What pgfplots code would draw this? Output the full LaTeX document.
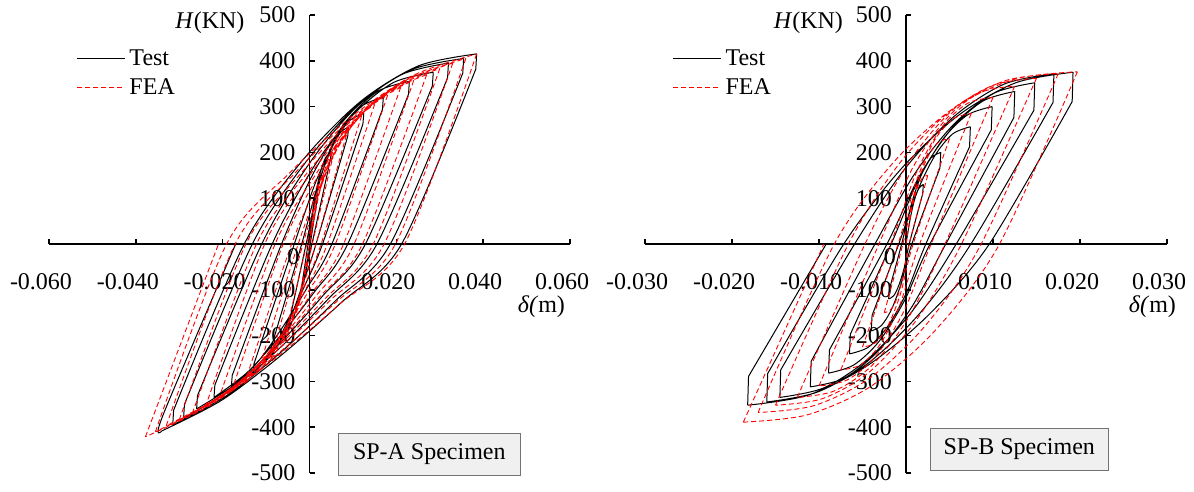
\documentclass[border=0pt]{standalone}
\usepackage{fontspec}
\setmainfont{Liberation Serif}
\usepackage{pgfplots}
\pgfplotsset{compat=1.18}
\newcommand{\fs}{\fontsize{12}{14}\selectfont}

\pgfplotsset{
  hyst/.style={
    scale only axis, height=229pt, anchor=south west,
    axis lines=middle, axis line style={-, line width=0.8pt},
    ymin=-500, ymax=500,
    ytick={-500,-400,-300,-200,-100,100,200,300,400,500},
    scaled x ticks=false,
    tick align=inside, major tick length=2.5pt,
    every tick/.style={black, line width=0.8pt},
    tick label style={font=\fs},
    /pgf/number format/assume math mode=true,
    xticklabel style={yshift=-11pt, xshift=-4pt,
      /pgf/number format/.cd, fixed, fixed zerofill, precision=3},
    yticklabel style={xshift=-3.5pt},
    clip=false, unbounded coords=jump,
    legend style={draw=none, fill=none, at={(rel axis cs:0.052,0.934)},
      anchor=north west, font=\fs, row sep=1pt, inner sep=0pt,
      cells={anchor=west}},
    legend image code/.code={\draw[##1] (0pt,0pt) -- (24pt,0pt);},
  },
  test/.style={black, line width=0.5pt, line join=round, smooth, tension=0.5},
  fea/.style={red, line width=0.45pt, dash pattern=on 2.5pt off 1.5pt, smooth, tension=0.5},
}

\begin{document}
\begin{tikzpicture}
\path[use as bounding box] (0,0) rectangle (597pt,246pt);

% ---------- SP-A ----------
\begin{axis}[hyst, at={(24.5pt,9.5pt)}, width=260.5pt,
  xmin=-0.06, xmax=0.06, xtick={-0.06,-0.04,-0.02,0.02,0.04,0.06}]
\addplot[test] coordinates {
(0,0) (0.0005,48) (0.001,83) (0.0015,103) (0.002,110) (0,nan)
(0.002,110) (0.0018,101) (0,nan)
(0.0018,101) (0.00017,0) (-0.00037,-31) (-0.00092,-59) (-0.00146,-84) (-0.002,-100) (0,nan)
(-0.002,-100) (-0.0018,-92) (0,nan)
(-0.0018,-92) (-0.00033,0) (0.001,88) (0.00233,150) (0.00367,188) (0.005,200) (0,nan)
(0.005,200) (0.0048,184) (0,nan)
(0.0048,184) (0.00056,0) (-0.00083,-59) (-0.00222,-113) (-0.00361,-159) (-0.005,-190) (0,nan)
(-0.005,-190) (-0.0048,-175) (0,nan)
(-0.0048,-175) (-0.00078,0) (0.00167,112) (0.00411,191) (0.00656,239) (0.009,255) (0,nan)
(0.009,255) (0.0088,235) (0,nan)
(0.0088,235) (0.0015,0) (-0.00113,-76) (-0.00375,-146) (-0.00638,-205) (-0.009,-245) (0,nan)
(-0.009,-245) (-0.0088,-225) (0,nan)
(-0.0088,-225) (-0.00179,0) (0.00178,125) (0.00536,214) (0.00893,267) (0.0125,285) (0,nan)
(0.0125,285) (0.0123,262) (0,nan)
(0.0123,262) (0.003,0) (-0.001,-89) (-0.005,-169) (-0.009,-238) (-0.013,-285) (0,nan)
(-0.013,-285) (-0.0128,-262) (0,nan)
(-0.0128,-262) (-0.0035,0) (0.00163,140) (0.00675,240) (0.01188,300) (0.017,320) (0,nan)
(0.017,320) (0.0168,294) (0,nan)
(0.0168,294) (0.00515,0) (-0.00064,-97) (-0.00643,-185) (-0.01221,-261) (-0.018,-312) (0,nan)
(-0.018,-312) (-0.0178,-287) (0,nan)
(-0.0178,-287) (-0.00644,0) (0.00092,155) (0.00828,266) (0.01564,333) (0.023,355) (0,nan)
(0.023,355) (0.0228,327) (0,nan)
(0.0228,327) (0.0088,0) (0.0011,-105) (-0.0066,-199) (-0.0143,-280) (-0.022,-335) (0,nan)
(-0.022,-335) (-0.0218,-308) (0,nan)
(-0.0218,-308) (-0.0086,0) (0.00068,164) (0.00995,281) (0.01923,352) (0.0285,375) (0,nan)
(0.0285,375) (0.0283,345) (0,nan)
(0.0283,345) (0.01288,0) (0.00316,-112) (-0.00656,-214) (-0.01628,-301) (-0.026,-360) (0,nan)
(-0.026,-360) (-0.0258,-331) (0,nan)
(-0.0258,-331) (-0.011,0) (-0.00025,173) (0.0105,296) (0.02125,370) (0.032,395) (0,nan)
(0.032,395) (0.0318,363) (0,nan)
(0.0318,363) (0.01554,0) (0.00441,-119) (-0.00673,-226) (-0.01787,-317) (-0.029,-380) (0,nan)
(-0.029,-380) (-0.0288,-350) (0,nan)
(-0.0288,-350) (-0.01317,0) (-0.001,177) (0.01117,304) (0.02333,380) (0.0355,405) (0,nan)
(0.0355,405) (0.0353,373) (0,nan)
(0.0353,373) (0.01862,0) (0.00609,-123) (-0.00644,-235) (-0.01897,-330) (-0.0315,-395) (0,nan)
(-0.0315,-395) (-0.0313,-363) (0,nan)
(-0.0313,-363) (-0.01504,0) (-0.00166,182) (0.01173,311) (0.02512,389) (0.0385,415) (0,nan)
(0.0385,415) (0.0383,382) (0,nan)
(0.0383,382) (0.02121,0) (0.00741,-127) (-0.0064,-242) (-0.0202,-341) (-0.034,-408) (0,nan)
(-0.034,-408) (-0.0338,-375) (-0.017,0)
};
\addlegendentry{Test}
\addplot[fea] coordinates {
(0,0) (0.00075,55) (0.0015,100) (0.00225,134) (0.003,150) (0,nan)
(0.003,150) (0,0) (-0.00075,-47) (-0.0015,-89) (-0.00225,-125) (-0.003,-150) (0,nan)
(-0.003,-150) (0,0) (0.0015,80) (0.003,144) (0.0045,191) (0.006,215) (0,nan)
(0.006,215) (0.00063,0) (-0.00103,-67) (-0.00269,-128) (-0.00434,-180) (-0.006,-215) (0,nan)
(-0.006,-215) (-0.00062,0) (0.00178,94) (0.00419,171) (0.00659,227) (0.009,255) (0,nan)
(0.009,255) (0.0015,0) (-0.00113,-80) (-0.00375,-151) (-0.00638,-213) (-0.009,-255) (0,nan)
(-0.009,-255) (-0.0015,0) (0.00188,104) (0.00525,188) (0.00863,249) (0.012,280) (0,nan)
(0.012,280) (0.00267,0) (-0.001,-88) (-0.00467,-168) (-0.00833,-235) (-0.012,-282) (0,nan)
(-0.012,-282) (-0.0026,0) (0.0018,113) (0.0062,204) (0.0106,271) (0.015,305) (0,nan)
(0.015,305) (0.00411,0) (-0.00067,-95) (-0.00545,-181) (-0.01022,-255) (-0.015,-305) (0,nan)
(-0.015,-305) (-0.00411,0) (0.00142,120) (0.00695,218) (0.01247,289) (0.018,325) (0,nan)
(0.018,325) (0.00596,0) (-0.00003,-100) (-0.00602,-191) (-0.01201,-269) (-0.018,-322) (0,nan)
(-0.018,-322) (-0.00607,0) (0.0007,127) (0.00747,229) (0.01423,304) (0.021,342) (0,nan)
(0.021,342) (0.00785,0) (0.00064,-106) (-0.00658,-202) (-0.01379,-284) (-0.021,-340) (0,nan)
(-0.021,-340) (-0.00792,0) (0.00006,132) (0.00804,239) (0.01602,318) (0.024,357) (0,nan)
(0.024,357) (0.01027,0) (0.0017,-111) (-0.00687,-211) (-0.01543,-297) (-0.024,-356) (0,nan)
(-0.024,-356) (-0.01031,0) (-0.00098,137) (0.00835,248) (0.01767,329) (0.027,370) (0,nan)
(0.027,370) (0.0122,0) (0.0024,-115) (-0.0074,-220) (-0.0172,-309) (-0.027,-370) (0,nan)
(-0.027,-370) (-0.0122,0) (-0.00165,142) (0.0089,257) (0.01945,341) (0.03,383) (0,nan)
(0.03,383) (0.01468,0) (0.00351,-120) (-0.00766,-228) (-0.01883,-321) (-0.03,-384) (0,nan)
(-0.03,-384) (-0.01464,0) (-0.00273,146) (0.00918,265) (0.02109,352) (0.033,395) (0,nan)
(0.033,395) (0.0172,0) (0.00465,-124) (-0.0079,-236) (-0.02045,-331) (-0.033,-397) (0,nan)
(-0.033,-397) (-0.01712,0) (-0.00384,150) (0.00944,271) (0.02272,360) (0.036,405) (0,nan)
(0.036,405) (0.0198,0) (0.00598,-128) (-0.00785,-244) (-0.02168,-342) (-0.0355,-410) (0,nan)
(-0.0355,-410) (-0.0191,0) (-0.0047,154) (0.0097,278) (0.0241,369) (0.0385,415) (0,nan)
(0.0385,415) (0.0219,0) (0.00698,-131) (-0.00795,-250) (-0.02288,-352) (-0.0378,-421) (0,nan)
(-0.0378,-421) (-0.02096,0)
};
\addlegendentry{FEA}
\node[anchor=east, font=\fs, xshift=-29pt, yshift=-4pt] at (axis cs:0,500) {\textit{H}(KN)};
\node[anchor=east, font=\fs, xshift=-1.5pt, yshift=-6.5pt] at (axis cs:0,0) {0};
\node[anchor=east, font=\fs, xshift=1pt, yshift=-31.5pt] at (axis cs:0.06,0) {\textit{δ(}m)};
\node[draw=black!55, fill=black!6, line width=0.5pt, font=\fs, minimum width=91pt, minimum height=21pt]
  at (rel axis cs:0.730,0.041) {SP-A Specimen};
\end{axis}

% ---------- SP-B ----------
\begin{axis}[hyst, at={(322.5pt,9.5pt)}, width=261pt,
  xmin=-0.03, xmax=0.03, xtick={-0.03,-0.02,-0.01,0.01,0.02,0.03}]
\addplot[test] coordinates {
(0,0) (0.0005,57) (0.001,98) (0.0015,122) (0.002,130) (0,nan)
(0.002,130) (0.0019,108) (0,nan)
(0.0019,108) (0.00037,0) (-0.00022,-53) (-0.00082,-90) (-0.00141,-113) (-0.002,-120) (0,nan)
(-0.002,-120) (-0.0019,-98) (0,nan)
(-0.0019,-98) (-0.0005,0) (0.00063,88) (0.00175,150) (0.00288,188) (0.004,200) (0,nan)
(0.004,200) (0.0039,166) (0,nan)
(0.0039,166) (0.00067,0) (-0.0005,-83) (-0.00167,-143) (-0.00283,-178) (-0.004,-190) (0,nan)
(-0.004,-190) (-0.0039,-156) (0,nan)
(-0.0039,-156) (-0.00083,0) (0.00123,112) (0.00329,192) (0.00534,240) (0.0074,256) (0,nan)
(0.0074,256) (0.0073,212) (0,nan)
(0.0073,212) (0.00228,0) (0.00009,-105) (-0.00211,-180) (-0.0043,-225) (-0.0065,-240) (0,nan)
(-0.0065,-240) (-0.0064,-197) (0,nan)
(-0.0064,-197) (-0.0017,0) (0.0012,131) (0.0041,225) (0.007,281) (0.0099,300) (0,nan)
(0.0099,300) (0.0098,249) (0,nan)
(0.0098,249) (0.00276,0) (-0.00016,-123) (-0.00307,-212) (-0.00599,-264) (-0.0089,-282) (0,nan)
(-0.0089,-282) (-0.0088,-231) (0,nan)
(-0.0088,-231) (-0.00219,0) (0.00148,146) (0.00516,250) (0.00883,312) (0.0125,333) (0,nan)
(0.0125,333) (0.0124,276) (0,nan)
(0.0124,276) (0.00457,0) (0.00068,-137) (-0.00322,-234) (-0.00711,-293) (-0.011,-312) (0,nan)
(-0.011,-312) (-0.0109,-256) (0,nan)
(-0.0109,-256) (-0.00357,0) (0.00102,154) (0.00562,264) (0.01021,330) (0.0148,352) (0,nan)
(0.0148,352) (0.0147,292) (0,nan)
(0.0147,292) (0.00577,0) (0.0007,-147) (-0.00437,-251) (-0.00943,-314) (-0.0145,-335) (0,nan)
(-0.0145,-335) (-0.0144,-275) (0,nan)
(-0.0144,-275) (-0.00591,0) (-0.00018,163) (0.00555,279) (0.01127,349) (0.017,372) (0,nan)
(0.017,372) (0.0169,309) (0,nan)
(0.0169,309) (0.00746,0) (0.0016,-151) (-0.00427,-259) (-0.01014,-323) (-0.016,-345) (0,nan)
(-0.016,-345) (-0.0159,-283) (0,nan)
(-0.0159,-283) (-0.00715,0) (-0.00056,164) (0.00603,281) (0.01261,352) (0.0192,375) (0,nan)
(0.0192,375) (0.0191,311) (0,nan)
(0.0191,311) (0.00958,0) (0.00264,-154) (-0.00431,-264) (-0.01125,-330) (-0.0182,-352) (0,nan)
(-0.0182,-352) (-0.0181,-289) (0,nan)
(-0.0181,-289) (-0.00917,0)
};
\addlegendentry{Test}
\addplot[fea] coordinates {
(0,0) (0.00063,73) (0.00125,120) (0.00188,144) (0.0025,150) (0,nan)
(0.0025,150) (0.00036,0) (-0.00036,-73) (-0.00107,-120) (-0.00179,-144) (-0.0025,-150) (0,nan)
(-0.0025,-150) (-0.00036,0) (0.00098,111) (0.00232,183) (0.00366,221) (0.005,230) (0,nan)
(0.005,230) (0.00082,0) (-0.00064,-109) (-0.00209,-179) (-0.00355,-216) (-0.005,-225) (0,nan)
(-0.005,-225) (-0.00091,0) (0.00119,138) (0.0033,227) (0.0054,273) (0.0075,285) (0,nan)
(0.0075,285) (0.00156,0) (-0.00071,-133) (-0.00297,-219) (-0.00524,-264) (-0.0075,-275) (0,nan)
(-0.0075,-275) (-0.00177,0) (0.00117,155) (0.00412,255) (0.00706,307) (0.01,320) (0,nan)
(0.01,320) (0.00289,0) (-0.00033,-150) (-0.00356,-247) (-0.00678,-297) (-0.01,-310) (0,nan)
(-0.01,-310) (-0.00311,0) (0.00079,167) (0.0047,275) (0.0086,331) (0.0125,345) (0,nan)
(0.0125,345) (0.00448,0) (0.00024,-162) (-0.00401,-267) (-0.00826,-321) (-0.0125,-335) (0,nan)
(-0.0125,-335) (-0.00471,0) (0.00022,175) (0.00515,289) (0.01007,347) (0.015,362) (0,nan)
(0.015,362) (0.00638,0) (0.00104,-170) (-0.00431,-281) (-0.00966,-338) (-0.015,-352) (0,nan)
(-0.015,-352) (-0.00662,0) (-0.00059,180) (0.00544,296) (0.01147,357) (0.0175,372) (0,nan)
(0.0175,372) (0.00864,0) (0.00223,-178) (-0.00418,-293) (-0.01059,-353) (-0.017,-368) (0,nan)
(-0.017,-368) (-0.00824,0) (-0.00126,182) (0.00573,300) (0.01272,361) (0.0197,376) (0,nan)
(0.0197,376) (0.01075,0) (0.00339,-188) (-0.00398,-310) (-0.01134,-373) (-0.0187,-389) (0,nan)
(-0.0187,-389) (-0.00944,0)
};
\addlegendentry{FEA}
\node[anchor=east, font=\fs, xshift=-28pt, yshift=-4pt] at (axis cs:0,500) {\textit{H}(KN)};
\node[anchor=east, font=\fs, xshift=-1.5pt, yshift=-6.5pt] at (axis cs:0,0) {0};
\node[anchor=east, font=\fs, xshift=8pt, yshift=-31.5pt] at (axis cs:0.03,0) {\textit{δ(}m)};
\node[draw=black!55, fill=black!6, line width=0.5pt, font=\fs, minimum width=89pt, minimum height=21pt]
  at (rel axis cs:0.717,0.052) {SP-B Specimen};
\end{axis}
\end{tikzpicture}
\end{document}
